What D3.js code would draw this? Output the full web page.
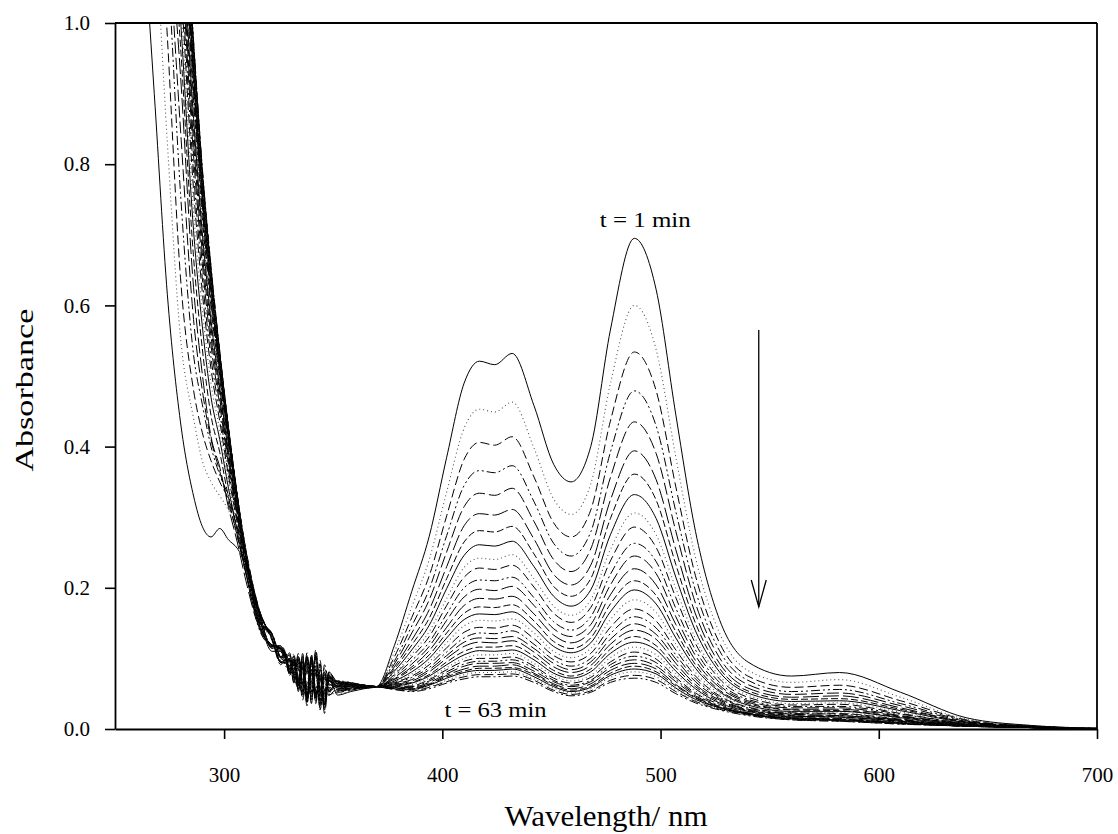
<!DOCTYPE html>
<html>
<head>
<meta charset="utf-8">
<script src="https://cdn.jsdelivr.net/npm/d3@7"></script>
<style>
  body { margin: 0; background: #fff; }
  svg { display: block; }
</style>
</head>
<body>
<div id="chart"></div>
<script>
// spectra recorded every 2 min, t = 1 ... 63 min
const times = [1, 3, 5, 7, 9, 11, 13, 15, 17, 19, 21, 23, 25, 27, 29, 31,
               33, 35, 37, 39, 41, 43, 45, 47, 49, 51, 53, 55, 57, 59, 61, 63];

const xTicks = [300, 400, 500, 600, 700];
const yTicks = [0.0, 0.2, 0.4, 0.6, 0.8, 1.0];

// UV part (nm)
const uvWavelengths = [262, 268, 274, 280, 286, 290, 294, 298, 302, 306, 310, 316, 322, 326,
                       328, 330, 332, 334, 336, 338, 340, 342, 344, 346, 348, 352, 358, 364];
// visible part (nm)
const visWavelengths = [370, 378, 386, 394, 402, 410, 417, 424, 432, 442, 451, 459, 468,
                        477, 488, 498, 507, 516, 527, 540, 560, 582, 610, 640, 670, 700];

// absorbance, one row per spectrum (same order as times)
const uvAbsorbance = [
  [1.18, .90, .615, .435, .33, .287, .272, .284, .268, .256, .232, .158, .110, .110, .101, .080, .093, .061, .091, .043, .096, .044, .072, .030, .073, .048, .053, .057],
  [1.45, 1.16, .83, .555, .44, .38, .35, .33, .31, .28, .227, .147, .130, .096, .092, .094, .071, .094, .049, .096, .048, .099, .034, .072, .050, .050, .054, .057],
  [1.6, 1.3, .98, .64, .48, .42, .38, .35, .325, .285, .232, .163, .125, .091, .099, .098, .069, .084, .041, .083, .056, .089, .027, .080, .053, .052, .055, .058],
  [1.68, 1.4, 1.1, .76, .53, .46, .40, .36, .33, .285, .222, .142, .116, .110, .090, .085, .096, .056, .081, .033, .101, .049, .067, .048, .068, .053, .056, .058],
  [1.72, 1.47, 1.15, .85, .58, .48, .41, .365, .32, .275, .220, .158, .114, .114, .104, .076, .086, .086, .053, .090, .036, .104, .042, .050, .064, .054, .057, .058],
  [1.77, 1.52, 1.185, .927, .625, .503, .414, .371, .314, .265, .210, .147, .134, .101, .096, .096, .066, .098, .059, .048, .084, .039, .092, .022, .070, .055, .057, .059],
  [1.81, 1.56, 1.23, .969, .668, .539, .444, .392, .328, .273, .223, .164, .127, .094, .093, .100, .075, .058, .096, .038, .078, .084, .037, .068, .048, .056, .058, .059],
  [1.85, 1.60, 1.27, 1.007, .706, .571, .47, .41, .341, .28, .220, .144, .119, .114, .102, .078, .099, .068, .051, .103, .041, .079, .054, .035, .076, .057, .058, .059],
  [1.875, 1.625, 1.30, 1.035, .735, .595, .49, .423, .35, .286, .226, .161, .116, .117, .096, .104, .075, .090, .045, .090, .063, .096, .046, .047, .070, .058, .059, .059],
  [1.90, 1.65, 1.33, 1.063, .764, .619, .51, .436, .359, .292, .224, .150, .133, .100, .105, .085, .103, .053, .088, .060, .096, .036, .086, .054, .048, .058, .059, .060],
  [1.92, 1.67, 1.355, 1.087, .788, .639, .526, .448, .367, .296, .235, .166, .129, .096, .093, .093, .069, .103, .065, .100, .046, .076, .034, .087, .064, .059, .060, .060],
  [1.95, 1.70, 1.38, 1.11, .812, .659, .543, .459, .375, .301, .231, .147, .118, .113, .102, .081, .092, .083, .048, .095, .060, .104, .042, .067, .054, .060, .060, .060],
  [1.965, 1.715, 1.40, 1.129, .831, .675, .556, .468, .381, .304, .236, .163, .115, .116, .098, .100, .065, .093, .081, .038, .093, .054, .082, .034, .074, .060, .060, .060],
  [1.98, 1.73, 1.42, 1.148, .85, .691, .569, .477, .387, .308, .233, .151, .135, .102, .107, .076, .095, .066, .095, .055, .073, .084, .029, .077, .058, .061, .061, .060],
  [2.0, 1.75, 1.435, 1.162, .865, .703, .579, .483, .392, .311, .243, .168, .128, .095, .094, .095, .089, .056, .103, .044, .100, .046, .072, .042, .068, .061, .061, .061],
  [2.01, 1.76, 1.45, 1.176, .879, .715, .589, .49, .397, .314, .237, .148, .117, .112, .101, .084, .078, .098, .058, .082, .048, .108, .054, .030, .076, .062, .061, .061],
  [2.02, 1.77, 1.46, 1.188, .891, .725, .597, .496, .401, .316, .242, .164, .117, .118, .109, .081, .091, .091, .058, .095, .041, .109, .047, .055, .069, .062, .062, .061],
  [2.03, 1.78, 1.475, 1.2, .903, .735, .605, .501, .405, .318, .238, .153, .134, .101, .101, .101, .071, .103, .064, .053, .089, .044, .097, .027, .075, .063, .062, .061],
  [2.04, 1.79, 1.485, 1.209, .913, .743, .612, .506, .408, .32, .248, .169, .127, .094, .098, .105, .080, .063, .101, .043, .083, .089, .042, .073, .053, .063, .062, .061],
  [2.05, 1.80, 1.495, 1.218, .922, .751, .619, .51, .411, .322, .242, .149, .119, .114, .107, .083, .104, .073, .056, .108, .046, .084, .059, .040, .081, .064, .063, .061],
  [2.057, 1.807, 1.502, 1.225, .929, .757, .624, .514, .413, .323, .245, .165, .116, .117, .106, .085, .098, .066, .096, .048, .101, .049, .077, .035, .078, .064, .063, .061],
  [2.064, 1.814, 1.51, 1.232, .937, .763, .629, .517, .416, .325, .241, .153, .133, .100, .097, .099, .076, .099, .054, .101, .053, .104, .039, .077, .055, .065, .063, .062],
  [2.07, 1.82, 1.518, 1.239, .944, .769, .634, .52, .418, .326, .251, .170, .129, .096, .104, .103, .074, .089, .046, .088, .061, .094, .032, .085, .058, .065, .064, .062],
  [2.075, 1.825, 1.522, 1.244, .949, .773, .637, .523, .419, .327, .244, .150, .118, .113, .095, .090, .101, .061, .086, .038, .106, .054, .072, .053, .073, .066, .064, .062],
  [2.08, 1.83, 1.527, 1.249, .953, .777, .64, .525, .421, .328, .248, .166, .115, .116, .102, .104, .069, .097, .085, .042, .097, .058, .086, .038, .078, .066, .064, .062],
  [2.084, 1.834, 1.532, 1.254, .958, .781, .643, .527, .423, .329, .243, .154, .135, .102, .111, .080, .099, .070, .099, .059, .077, .088, .033, .081, .062, .066, .064, .062],
  [2.088, 1.838, 1.536, 1.257, .962, .784, .646, .529, .424, .33, .253, .170, .128, .095, .098, .099, .093, .060, .107, .048, .104, .050, .076, .046, .072, .067, .065, .062],
  [2.091, 1.841, 1.54, 1.261, .965, .787, .648, .531, .425, .33, .246, .150, .117, .112, .105, .088, .082, .102, .062, .086, .052, .112, .058, .034, .080, .067, .065, .062],
  [2.094, 1.844, 1.543, 1.263, .968, .789, .65, .532, .426, .331, .249, .166, .117, .118, .100, .108, .079, .094, .049, .094, .067, .100, .050, .051, .074, .067, .065, .062],
  [2.096, 1.846, 1.546, 1.266, .971, .792, .652, .533, .427, .331, .245, .154, .134, .101, .109, .089, .107, .057, .092, .064, .100, .040, .090, .058, .052, .068, .065, .062],
  [2.098, 1.848, 1.548, 1.268, .973, .793, .654, .534, .427, .332, .254, .170, .127, .094, .097, .097, .073, .107, .069, .104, .050, .080, .038, .091, .068, .068, .065, .062],
  [2.1, 1.85, 1.55, 1.27, .975, .795, .655, .535, .428, .332, .247, .150, .119, .114, .106, .085, .096, .087, .052, .099, .064, .108, .046, .071, .058, .068, .066, .062]
];

const visAbsorbance = [
  [.060, .118, .195, .273, .385, .490, .521, .516, .532, .458, .375, .350, .400, .565, .695, .622, .445, .280, .155, .095, .075, .080, .052, .016, .005, .001],
  [.060, .109, .173, .240, .336, .426, .453, .449, .463, .398, .326, .304, .347, .489, .600, .537, .385, .243, .136, .083, .066, .070, .045, .014, .005, .001],
  [.060, .102, .158, .217, .302, .382, .406, .402, .414, .357, .292, .272, .310, .436, .534, .479, .343, .217, .122, .075, .059, .062, .040, .013, .004, .001],
  [.060, .096, .146, .198, .274, .345, .366, .363, .373, .322, .263, .245, .279, .392, .479, .429, .308, .196, .111, .069, .053, .056, .036, .012, .004, .001],
  [.060, .092, .136, .183, .251, .315, .334, .331, .341, .294, .240, .223, .255, .356, .435, .390, .280, .178, .101, .063, .049, .051, .033, .011, .004, .001],
  [.060, .088, .126, .169, .230, .288, .305, .303, .311, .269, .219, .204, .232, .324, .394, .353, .254, .163, .093, .058, .045, .047, .030, .010, .004, .001],
  [.060, .085, .119, .157, .213, .265, .281, .279, .287, .248, .202, .188, .213, .298, .361, .324, .233, .150, .086, .054, .042, .043, .028, .010, .003, .000],
  [.060, .082, .112, .147, .199, .246, .261, .259, .266, .230, .188, .174, .197, .275, .332, .298, .215, .139, .081, .051, .039, .040, .026, .009, .003, .000],
  [.060, .079, .106, .138, .185, .229, .242, .240, .247, .213, .174, .161, .183, .254, .306, .275, .199, .128, .075, .048, .036, .037, .024, .009, .003, .000],
  [.060, .077, .102, .131, .175, .215, .228, .226, .232, .201, .164, .151, .172, .238, .286, .257, .186, .121, .071, .045, .034, .035, .022, .008, .003, .000],
  [.060, .075, .097, .123, .163, .200, .211, .210, .215, .186, .152, .140, .159, .219, .263, .237, .171, .112, .066, .042, .032, .032, .021, .008, .003, .000],
  [.060, .073, .092, .117, .154, .187, .198, .196, .202, .175, .142, .131, .148, .204, .245, .220, .159, .104, .062, .040, .030, .030, .019, .007, .003, .000],
  [.060, .071, .088, .111, .144, .175, .185, .184, .188, .163, .133, .122, .138, .190, .227, .204, .148, .097, .059, .038, .028, .028, .018, .007, .003, .000],
  [.060, .070, .085, .105, .136, .164, .173, .172, .176, .153, .124, .114, .129, .177, .210, .189, .138, .091, .055, .036, .027, .026, .017, .007, .003, .000],
  [.060, .068, .081, .100, .129, .155, .163, .162, .166, .144, .117, .108, .122, .166, .197, .177, .129, .086, .053, .034, .025, .025, .016, .006, .003, .000],
  [.060, .067, .078, .095, .122, .146, .154, .153, .156, .136, .110, .101, .114, .155, .183, .165, .120, .080, .050, .033, .024, .023, .015, .006, .003, .000],
  [.060, .066, .075, .091, .115, .137, .144, .143, .147, .128, .104, .095, .107, .144, .170, .153, .112, .075, .047, .031, .023, .022, .014, .006, .002, .000],
  [.060, .065, .073, .087, .109, .129, .136, .135, .139, .120, .098, .089, .100, .135, .159, .143, .105, .071, .045, .030, .022, .021, .013, .006, .002, .000],
  [.060, .064, .070, .084, .104, .123, .129, .128, .131, .114, .093, .084, .095, .127, .149, .134, .099, .067, .043, .028, .021, .019, .013, .005, .002, .000],
  [.060, .063, .068, .081, .100, .117, .123, .122, .125, .109, .088, .080, .090, .120, .140, .127, .093, .063, .041, .027, .020, .019, .012, .005, .002, .000],
  [.060, .062, .066, .077, .095, .110, .116, .116, .118, .103, .083, .075, .085, .113, .131, .118, .087, .060, .039, .026, .019, .017, .011, .005, .002, .000],
  [.060, .061, .065, .075, .091, .105, .111, .110, .112, .098, .079, .072, .081, .107, .123, .112, .082, .057, .037, .025, .018, .017, .011, .005, .002, .000],
  [.060, .060, .063, .072, .087, .100, .105, .105, .107, .093, .076, .068, .076, .101, .116, .105, .078, .054, .036, .024, .017, .016, .010, .005, .002, .000],
  [.060, .060, .061, .070, .084, .096, .100, .100, .102, .089, .072, .065, .073, .095, .109, .099, .073, .051, .035, .023, .017, .015, .010, .005, .002, .000],
  [.060, .059, .060, .068, .081, .092, .096, .096, .098, .086, .069, .062, .069, .091, .103, .094, .070, .049, .033, .023, .016, .014, .009, .005, .002, .000],
  [.060, .059, .059, .066, .078, .089, .093, .093, .094, .082, .067, .060, .067, .087, .098, .089, .067, .047, .032, .022, .016, .014, .009, .004, .002, .000],
  [.060, .058, .058, .064, .076, .085, .089, .089, .091, .079, .064, .057, .064, .083, .093, .085, .063, .045, .031, .022, .015, .013, .009, .004, .002, .000],
  [.060, .058, .057, .063, .074, .082, .086, .086, .087, .077, .062, .055, .061, .079, .089, .081, .061, .044, .030, .021, .015, .013, .008, .004, .002, .000],
  [.060, .057, .056, .062, .072, .080, .083, .083, .085, .074, .060, .053, .059, .076, .085, .078, .058, .042, .030, .021, .014, .012, .008, .004, .002, .000],
  [.060, .057, .055, .060, .069, .077, .080, .080, .081, .071, .058, .051, .057, .073, .081, .074, .056, .040, .029, .020, .014, .012, .008, .004, .002, .000],
  [.060, .056, .054, .059, .067, .074, .077, .077, .078, .069, .055, .049, .054, .069, .076, .070, .053, .039, .028, .020, .013, .011, .007, .004, .002, .000],
  [.060, .056, .053, .057, .065, .071, .074, .074, .075, .066, .053, .047, .052, .066, .072, .066, .050, .037, .027, .019, .013, .011, .007, .004, .002, .000]
];

drawSpectra()

function drawSpectra() {

	var width = 1118, height = 834;
	var serif = "Liberation Serif, Times New Roman, serif";

	var svg = d3.select("#chart")
		.append("svg")
		.attr("width", width)
		.attr("height", height)
		.attr("font-family", serif)

	const xScale = d3.scaleLinear()
		.domain([250, 700])
		.range([115, 1097]);

	const yScale = d3.scaleLinear()
		.domain([0, 1])
		.range([729, 23]);

	svg.append("clipPath")
		.attr("id", "plotclip")
		.append("rect")
		.attr("x", xScale(250))
		.attr("y", yScale(1))
		.attr("width", xScale(700) - xScale(250))
		.attr("height", yScale(0) - yScale(1))

	// join UV + visible parts for every spectrum
	const wavelengths = uvWavelengths.concat(visWavelengths);
	const series = times.map(function(t, i) {
		const a = uvAbsorbance[i].concat(visAbsorbance[i]);
		return {
			t: t,
			idx: i,
			values: a.map((v, j) => ({ wl: wavelengths[j], a: v }))
		};
	});

	const line = d3.line()
		.x(d => xScale(d.wl))
		.y(d => yScale(d.a))
		.curve(d3.curveMonotoneX);

	// sigmaplot style line type cycle
	const dashCycle = [null, "1,3", "9,4", "9,3,2,3,2,3", "12,4", "16,4", "7,3"];

	svg.append("g")
		.attr("clip-path", "url(#plotclip)")
		.selectAll("path")
		.data(series.slice().reverse())
		.join("path")
		.attr("d", d => line(d.values))
		.style("fill", "none")
		.style("stroke", d => (d.idx % 7 == 1) ? "#555" : "#000")
		.style("stroke-width", d => (d.idx % 7 == 1) ? 1.1 : 1)
		.attr("stroke-dasharray", d => dashCycle[d.idx % 7])

	// axes
	const xAxis = d3.axisBottom(xScale)
		.tickValues(xTicks)
		.tickSize(10)
		.tickSizeOuter(0)
		.tickPadding(28)
		.tickFormat(d3.format("d"));

	const yAxis = d3.axisLeft(yScale)
		.tickValues(yTicks)
		.tickSize(10)
		.tickSizeOuter(0)
		.tickPadding(15)
		.tickFormat(d3.format(".1f"));

	const gx = svg.append("g")
		.attr("transform", "translate(0," + yScale(0) + ")")
		.call(xAxis);

	const gy = svg.append("g")
		.attr("transform", "translate(" + xScale(250) + ",0)")
		.call(yAxis);

	[gx, gy].forEach(function(g) {
		g.attr("font-family", serif).attr("font-size", null)
		g.select(".domain").style("stroke", "#000").style("stroke-width", 1.8)
		g.selectAll(".tick line").style("stroke", "#000").style("stroke-width", 1.6)
		g.selectAll(".tick text")
			.attr("font-family", serif)
			.style("font-size", "21px")
			.style("fill", "#000")
	})

	// top and right frame
	svg.append("line")
		.attr("x1", xScale(250)).attr("x2", xScale(700))
		.attr("y1", yScale(1)).attr("y2", yScale(1))
		.style("stroke", "#000").style("stroke-width", 1.8)
	svg.append("line")
		.attr("x1", xScale(700)).attr("x2", xScale(700))
		.attr("y1", yScale(1)).attr("y2", yScale(0))
		.style("stroke", "#000").style("stroke-width", 1.8)

	// axis names
	svg.append("text")
		.attr("x", xScale(475))
		.attr("y", 826)
		.attr("font-family", serif)
		.style("text-anchor", "middle")
		.style("font-size", "29px")
		.attr("textLength", 203)
		.attr("lengthAdjust", "spacingAndGlyphs")
		.text("Wavelength/ nm")

	svg.append("text")
		.attr("transform", "translate(33," + yScale(0.48) + ") rotate(-90)")
		.attr("font-family", serif)
		.style("text-anchor", "middle")
		.style("font-size", "26px")
		.attr("textLength", 163)
		.attr("lengthAdjust", "spacingAndGlyphs")
		.text("Absorbance")

	// annotations
	svg.append("text")
		.attr("x", xScale(493))
		.attr("y", yScale(0.711))
		.attr("font-family", serif)
		.style("text-anchor", "middle")
		.style("font-size", "21px")
		.attr("textLength", 91)
		.attr("lengthAdjust", "spacingAndGlyphs")
		.text("t = 1 min")

	svg.append("text")
		.attr("x", xScale(424.4))
		.attr("y", yScale(0.0175))
		.attr("font-family", serif)
		.style("text-anchor", "middle")
		.style("font-size", "21px")
		.attr("textLength", 102)
		.attr("lengthAdjust", "spacingAndGlyphs")
		.text("t = 63 min")

	// arrow showing the decay
	const ax = xScale(545);
	svg.append("line")
		.attr("x1", ax).attr("x2", ax)
		.attr("y1", yScale(0.565)).attr("y2", yScale(0.173))
		.style("stroke", "#000").style("stroke-width", 1.3)
	svg.append("path")
		.attr("d", d3.line()([[ax - 7.5, yScale(0.211)], [ax, yScale(0.173)], [ax + 7.5, yScale(0.211)]]))
		.style("fill", "none").style("stroke", "#000").style("stroke-width", 1.3)
}
</script>
</body>
</html>
